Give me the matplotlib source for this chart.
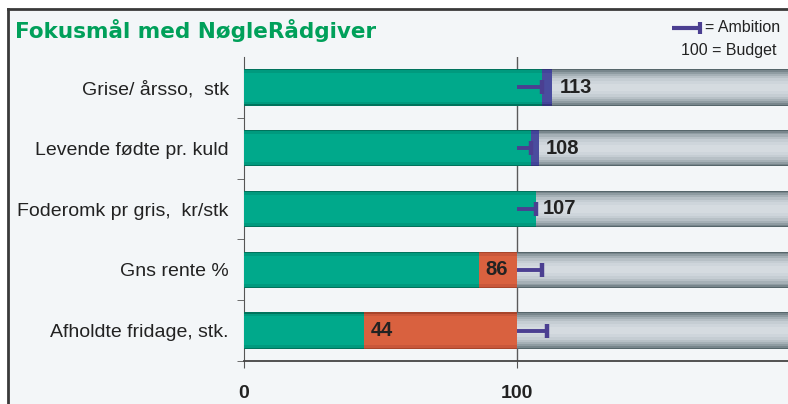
import matplotlib
matplotlib.use("Agg")
import matplotlib.pyplot as plt
from matplotlib.lines import Line2D
from matplotlib.patches import Rectangle

categories = ["Grise/ årsso,  stk", "Levende fødte pr. kuld", "Foderomk pr gris,  kr/stk",
              "Gns rente %", "Afholdte fridage, stk."]
actual = [113, 108, 107, 86, 44]
ambition = [109, 105, 107, 109, 111]
budget = 100
xmax = 199.3
tick_vals = [0, 100]
tick_labels = ["0", "100"]

BG = "#F3F6F8"
GREEN = "#00A98B"
GREEN_D = "#00735C"
RED = "#D9613F"
RED_D = "#A8452B"
BLUE = "#4A4C9E"
PURPLE = "#4B3F91"
TITLE_GREEN = "#00A05A"

fig = plt.figure(figsize=(7.88, 4.04), dpi=100)
fig.patch.set_facecolor("white")
fig.patches.append(Rectangle((8/788, 0), 1, 1 - 9/404, transform=fig.transFigure,
                             facecolor=BG, edgecolor="none", zorder=-10))
fig.lines.append(Line2D([8/788, 1], [1 - 9/404, 1 - 9/404], transform=fig.transFigure,
                        color="#3a3a3a", lw=2))
fig.lines.append(Line2D([8/788, 8/788], [0, 1 - 9/404], transform=fig.transFigure,
                        color="#3a3a3a", lw=2))

ax = fig.add_axes([244/788, 43/404, 544/788, 304/404])
ax.set_facecolor("none")
ax.set_xlim(0, xmax)
ax.set_ylim(4.5, -0.5)

h = 0.6
ys = list(range(len(categories)))

def layered(y, left, width, colors, fracs):
    for c, f in zip(colors, fracs):
        ax.barh(y, width, left=left, height=h * f, color=c, edgecolor="none", zorder=3)

gray_cols = ["#56666B", "#78868C", "#8F9CA2", "#A5B0B6", "#B7C0C6", "#C5CDD3", "#CED5DB", "#D5DBE0"]
gray_fr = [1.0, 0.94, 0.86, 0.76, 0.64, 0.50, 0.36, 0.2]
green_cols = [GREEN_D, "#009A7E", GREEN]
green_fr = [1.0, 0.93, 0.78]
red_cols = [RED_D, "#C9573A", RED]
red_fr = [1.0, 0.93, 0.78]
blue_cols = ["#33357A", "#42449A", BLUE]

ax.axvline(budget, color="#5a5a5a", lw=1, zorder=1)

for y, a, amb in zip(ys, actual, ambition):
    if a >= budget:
        g = min(a, amb)
        layered(y, 0, g, green_cols, green_fr)
        if a > g:
            layered(y, g, a - g, blue_cols, red_fr)
        gstart = a
    else:
        layered(y, 0, a, green_cols, green_fr)
        layered(y, a, budget - a, red_cols, red_fr)
        gstart = budget
    layered(y, gstart, xmax + 5 - gstart, gray_cols, gray_fr)
    ax.plot([budget, amb], [y, y], color=PURPLE, lw=2.8, zorder=5, solid_capstyle="butt")
    ax.plot([amb], [y], marker="|", ms=10, mew=3.2, color=PURPLE, zorder=5)
    ax.annotate(str(a), (a, y), xytext=(5, 0), textcoords="offset points",
                ha="left", va="center", fontsize=14.5, fontweight="bold",
                color="#222222", family="Liberation Sans", zorder=6)

for s in ["top", "right"]:
    ax.spines[s].set_visible(False)
ax.spines["left"].set_color("#555555")
ax.spines["bottom"].set_color("#444444")
ax.spines["bottom"].set_linewidth(1.3)

ax.set_yticks(ys)
ax.set_yticklabels(categories, fontsize=14, family="Liberation Sans", color="#222222")
ax.tick_params(axis="y", which="major", length=0, pad=11)
ax.set_yticks([0.5, 1.5, 2.5, 3.5, 4.5], minor=True)
ax.tick_params(axis="y", which="minor", length=5, color="#555555", direction="out")
ax.set_xticks(tick_vals)
ax.set_xticklabels(tick_labels, fontsize=14, fontweight="bold", family="Liberation Sans",
                   color="#222222")
ax.tick_params(axis="x", length=5, color="#555555", pad=12)

fig.text(15/788, 1 - 31/404, "Fokusmål med NøgleRådgiver", fontsize=15.5,
         fontweight="bold", color=TITLE_GREEN, family="DejaVu Sans", va="center", ha="left")

# legend
ly = 1 - 28/404
fig.lines.append(Line2D([672/788, 700/788], [ly, ly], transform=fig.transFigure,
                        color=PURPLE, lw=3, solid_capstyle="butt"))
fig.lines.append(Line2D([700/788], [ly], transform=fig.transFigure, marker="|",
                        ms=9, mew=3, color=PURPLE))
fig.text(705/788, ly, "= Ambition", fontsize=11.5, family="Liberation Sans",
         color="#222222", va="center", ha="left")
fig.text(681/788, 1 - 51/404, "100 = Budget", fontsize=11.5, family="Liberation Sans",
         color="#222222", va="center", ha="left")

fig.savefig("out.png", dpi=100, facecolor="white")
